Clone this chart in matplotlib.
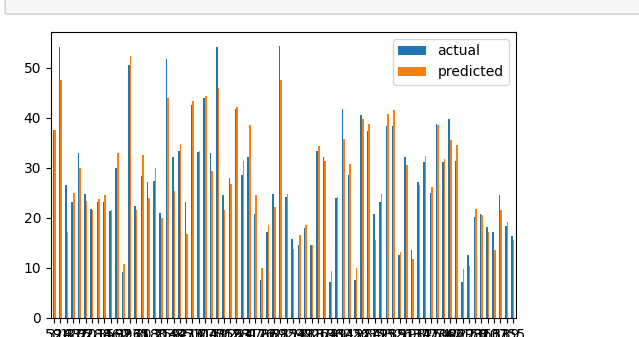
import matplotlib
matplotlib.use('Agg')
import matplotlib.pyplot as plt
from matplotlib.patches import FancyBboxPatch
import pandas as pd

# values
actual = [37.6, 54.2, 26.6, 23.2, 32.9, 24.8, 21.8, 23.2, 23.2, 21.4,
          29.9, 9.2, 50.5, 22.4, 28.4, 27.1, 27.3, 21.0, 51.8, 32.1,
          33.4, 23.2, 42.6, 33.2, 43.9, 32.9, 54.2, 24.5, 27.9, 41.8,
          28.5, 32.1, 20.8, 7.6, 17.1, 24.8, 54.4, 24.2, 15.8, 14.5,
          17.9, 14.5, 33.4, 32.1, 7.1, 23.9, 41.8, 28.6, 7.6, 40.5,
          37.3, 20.8, 23.2, 38.4, 38.4, 12.6, 32.1, 13.5, 27.1, 31.1,
          25.0, 38.8, 31.1, 39.8, 31.3, 7.2, 12.6, 20.2, 20.8, 18.2,
          17.1, 24.5, 18.4, 16.3]
predicted = [37.6, 47.6, 17.1, 25.0, 29.9, 23.4, 21.5, 23.7, 24.5, 21.6,
             32.9, 10.8, 52.3, 21.5, 32.6, 23.9, 29.9, 20.0, 43.9, 25.3,
             34.7, 16.8, 43.4, 33.4, 44.4, 29.4, 45.9, 21.5, 26.8, 42.1,
             31.3, 38.6, 24.5, 10.0, 18.6, 22.1, 47.6, 24.8, 13.7, 16.5,
             18.6, 14.5, 34.4, 31.3, 9.4, 24.2, 35.8, 30.7, 10.0, 39.8,
             38.8, 15.5, 24.8, 40.7, 41.5, 13.2, 30.5, 11.7, 26.6, 32.3,
             26.1, 38.6, 31.8, 35.5, 34.5, 9.8, 10.3, 21.8, 20.5, 17.1,
             13.5, 21.5, 19.2, 15.5]
# test-set index labels (unreadable in the picture, overlapping)
index_labels = [59, 318, 243, 120, 375, 32, 201, 288, 14, 350,
                162, 97, 396, 235, 71, 303, 180, 8, 259, 142,
                385, 47, 216, 331, 104, 270, 5, 192, 359, 128,
                63, 247, 311, 176, 22, 369, 88, 211, 154, 297,
                39, 338, 117, 264, 186, 73, 391, 145, 226, 12,
                284, 171, 353, 95, 239, 326, 51, 198, 134, 377,
                17, 254, 109, 342, 66, 222, 293, 158, 81, 366,
                207, 31, 139, 355]

df = pd.DataFrame({'actual': actual, 'predicted': predicted}, index=index_labels)

fig = plt.figure(figsize=(6.39, 3.37), dpi=100)

# notebook cell frame at the top
frame = FancyBboxPatch((0.008, 0.958), 1.2, 0.1, boxstyle='round,pad=0,rounding_size=0.005',
                       transform=fig.transFigure, facecolor='#f7f7f7', edgecolor='#cfcfcf',
                       lw=1.0, figure=fig)
fig.patches.append(frame)

ax = fig.add_axes([0.0798, 0.0564, 0.7277, 0.8487])
df.plot(kind='bar', ax=ax, rot=0, color=['#1f77b4', '#ff7f0e'])
ax.tick_params(labelsize=10)
ax.legend(loc='upper right', fontsize=10)

fig.savefig('out.png', dpi=100)
